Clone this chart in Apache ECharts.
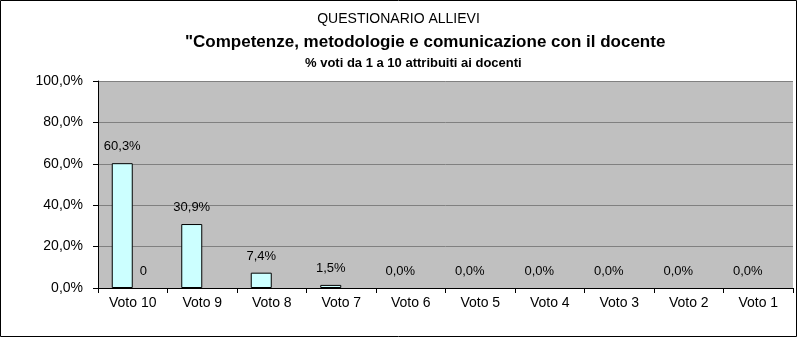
<!DOCTYPE html>
<html>
  <head>
    <meta charset="utf-8" />
    <title>Questionario allievi</title>
    <script src="https://cdn.jsdelivr.net/npm/echarts@6/dist/echarts.min.js"></script>
    <style>
      body { margin: 0; background: #fff; }
    </style>
  </head>
  <body>
    <div id="main" style="width: 797px;height:337px;"></div>
    <script type="text/javascript">
      // dati
      var categorie = ["Voto 10", "Voto 9", "Voto 8", "Voto 7", "Voto 6", "Voto 5", "Voto 4", "Voto 3", "Voto 2", "Voto 1"];
      var percentuali = [60.3, 30.9, 7.4, 1.5, 0, 0, 0, 0, 0, 0];
      var serieZero = [0, null, null, null, null, null, null, null, null, null];
      var titoli = [
        "QUESTIONARIO ALLIEVI",
        "\"Competenze, metodologie e comunicazione con il docente",
        "% voti da 1 a 10 attribuiti ai docenti"
      ];

      var font = "Liberation Sans, Arial, sans-serif";
      function perc(v) {
        return v.toFixed(1).replace(".", ",") + "%";
      }

      // le barre a zero non mostrano il bordo
      var datiBarre = percentuali.map(function (v) {
        return v === 0 ? { value: v, itemStyle: { borderWidth: 0, color: "transparent" } } : v;
      });

      var myChart = echarts.init(document.getElementById("main"));

      var option = {
        backgroundColor: "#fff",
        animation: false,
        title: [
          { text: titoli[0], left: "center", top: 7, textStyle: { fontFamily: font, fontSize: 14, fontWeight: "normal", color: "#000" } },
          { text: titoli[1], left: 180, top: 29, textStyle: { fontFamily: font, fontSize: 17, fontWeight: "bold", color: "#000" } },
          { text: titoli[2], left: 300, top: 52, textStyle: { fontFamily: font, fontSize: 13, fontWeight: "bold", color: "#000" } }
        ],
        grid: { left: 98, right: 4, top: 81, bottom: 49 },
        xAxis: {
          type: "category",
          data: categorie,
          axisLine: { lineStyle: { color: "#000", width: 1 } },
          axisTick: { show: true, length: 5, lineStyle: { color: "#000" } },
          axisLabel: { color: "#000", fontFamily: font, fontSize: 14, margin: 8 }
        },
        yAxis: {
          type: "value",
          min: 0,
          max: 100,
          interval: 20,
          axisLine: { show: true, lineStyle: { color: "#000", width: 1 } },
          axisTick: { show: true, length: 5, lineStyle: { color: "#000" } },
          axisLabel: { color: "#000", fontFamily: font, fontSize: 14, margin: 15, formatter: function (v) { return perc(v); } },
          splitLine: { show: true, lineStyle: { color: "#808080", width: 1 } },
          splitArea: { show: true, areaStyle: { color: ["#c0c0c0", "#c0c0c0"] } }
        },
        series: [
          {
            name: "Percentuale",
            type: "bar",
            data: datiBarre,
            barWidth: 21,
            barGap: 0,
            itemStyle: { color: "#ccffff", borderColor: "#000", borderWidth: 1 },
            label: {
              show: true,
              position: "top",
              distance: 10,
              color: "#000",
              fontFamily: font,
              fontSize: 13,
              formatter: function (p) { return perc(p.value); }
            }
          },
          {
            name: "Zero",
            type: "bar",
            data: serieZero,
            barWidth: 21,
            itemStyle: { color: "transparent", borderWidth: 0 },
            label: {
              show: true,
              position: "top",
              distance: 10,
              color: "#000",
              fontFamily: font,
              fontSize: 13,
              formatter: "{c}"
            }
          }
        ],
        graphic: [
          {
            type: "rect",
            shape: { x: 0.5, y: 0.5, width: 796, height: 336 },
            style: { fill: null, stroke: "#000", lineWidth: 1 },
            silent: true
          }
        ]
      };

      myChart.setOption(option);
    </script>
  </body>
</html>
